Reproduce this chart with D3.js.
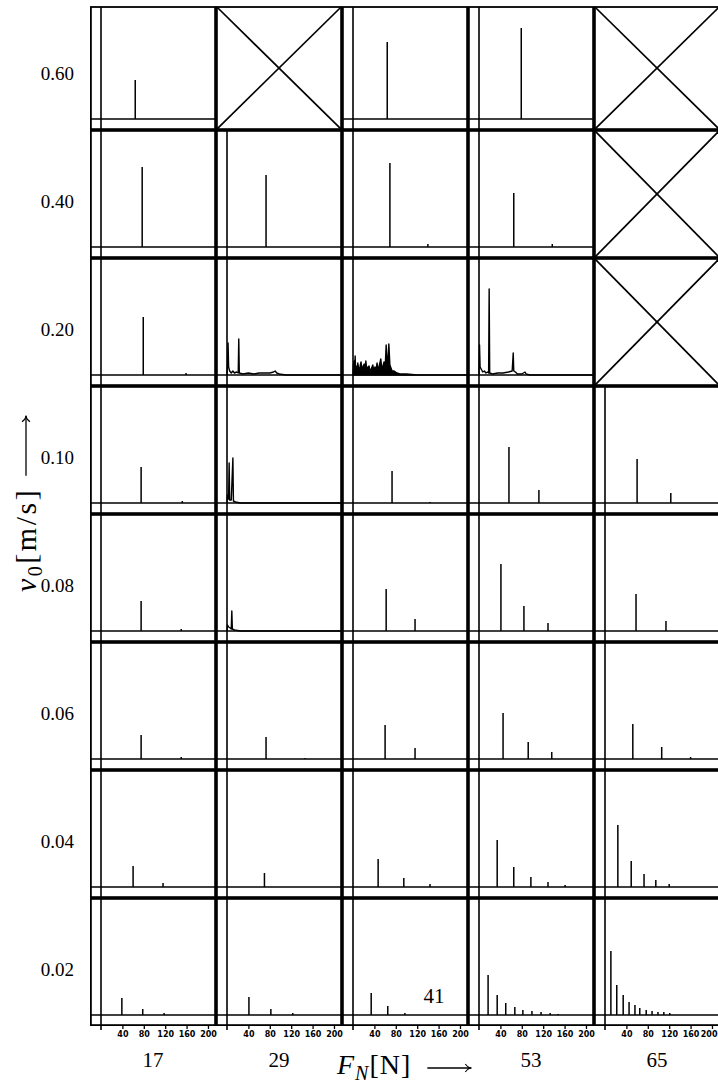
<!DOCTYPE html>
<html>
<head>
<meta charset="utf-8">
<script src="https://cdn.jsdelivr.net/npm/d3@7"></script>
<style>
body { margin: 0; background: #fff; }
svg { display: block; }
</style>
</head>
<body>
<div id="chart"></div>
<script>
(function() {

// rows = sliding speed v0 [m/s], columns = normal force F_N [N]
const speeds = ["0.60", "0.40", "0.20", "0.10", "0.08", "0.06", "0.04", "0.02"];
const forces = ["17", "29", "41", "53", "65"];
const freqTicks = [40, 80, 120, 160, 200];

// cells without a measurement (crossed out)
const crossed = ["0.60|29", "0.60|65", "0.40|65", "0.20|65"];

// spectral lines per row: [force, frequency, amplitude]
const lines060 = [["17", 64, 39], ["41", 64, 77], ["53", 79, 91]];
const lines040 = [["17", 77, 80], ["29", 73, 72], ["41", 69, 84], ["41", 140, 3], ["53", 65, 54], ["53", 137, 3]];
const lines020 = [["17", 79, 58], ["17", 159, 2]];
const lines010 = [["17", 75, 36], ["17", 152, 2], ["41", 73, 32], ["41", 144, 1], ["53", 56, 56], ["53", 112, 13], ["65", 60, 44], ["65", 123, 10]];
const lines008 = [["17", 75, 30], ["17", 150, 2], ["41", 62, 42], ["41", 116, 12], ["53", 41, 67], ["53", 84, 25], ["53", 129, 8], ["65", 58, 37], ["65", 114, 10]];
const lines006 = [["17", 75, 24], ["17", 150, 2], ["29", 73, 22], ["29", 146, 1], ["41", 60, 34], ["41", 116, 11], ["53", 45, 46], ["53", 92, 17], ["53", 136, 7], ["65", 52, 35], ["65", 106, 12], ["65", 160, 2]];
const lines004 = [["17", 60, 21], ["17", 116, 4], ["29", 70, 14], ["41", 47, 28], ["41", 95, 9], ["41", 144, 3], ["53", 34, 47], ["53", 65, 20], ["53", 97, 10], ["53", 129, 5], ["53", 161, 2], ["65", 24, 62], ["65", 49, 26], ["65", 73, 13], ["65", 95, 7], ["65", 120, 3]];
const lines002 = [["17", 39, 17], ["17", 78, 6], ["17", 118, 2], ["29", 41, 18], ["29", 82, 6], ["29", 123, 2], ["41", 34, 22], ["41", 65, 9], ["41", 97, 2],
  ["53", 17, 40], ["53", 34, 20], ["53", 50, 12], ["53", 67, 8], ["53", 82, 5], ["53", 99, 4], ["53", 116, 3], ["53", 133, 2], ["53", 148, 1],
  ["65", 11, 64], ["65", 22, 30], ["65", 34, 20], ["65", 45, 13], ["65", 56, 10], ["65", 65, 7], ["65", 77, 5], ["65", 88, 4], ["65", 99, 3], ["65", 110, 3], ["65", 121, 2]];

// broadband spectra: [frequency, amplitude]
const noise020_29 = [[0, 0], [1, 10], [2, 32], [3, 8], [5, 4], [8, 2], [11, 4], [14, 2], [18, 3], [21, 2], [22, 36], [23, 2], [30, 1], [40, 2], [50, 1], [60, 2], [70, 2], [80, 2], [87, 3], [90, 4], [93, 2], [98, 1], [110, 0], [215, 0]];
const noise020_41 = [[0, 0], [1, 10], [2, 14], [3, 4], [4, 19], [5, 5], [6, 9], [8, 3], [9, 12], [11, 4], [13, 8], [15, 13], [17, 4], [19, 9], [21, 11], [22, 3], [24, 14], [26, 4], [28, 8], [30, 9], [32, 3], [34, 6], [37, 10], [39, 4], [41, 8], [43, 5], [45, 12], [47, 4], [49, 9], [52, 16], [54, 5], [56, 9], [58, 13], [60, 6], [62, 30], [64, 8], [65, 12], [67, 31], [69, 10], [71, 7], [73, 4], [77, 4], [82, 2], [88, 1], [100, 1], [120, 0], [215, 0]];
const noise020_53 = [[0, 0], [1, 30], [2, 8], [4, 6], [7, 3], [10, 4], [13, 2], [16, 3], [18, 2], [19, 86], [20, 2], [25, 1], [35, 2], [45, 2], [55, 3], [62, 4], [64, 22], [65, 4], [68, 3], [72, 1], [80, 1], [86, 3], [88, 1], [95, 0], [215, 0]];
const noise010_29 = [[0, 0], [1, 8], [3, 4], [4, 40], [5, 3], [8, 3], [11, 45], [12, 2], [16, 1], [25, 0], [215, 0]];
const noise008_29 = [[0, 0], [1, 6], [3, 4], [6, 3], [8, 2], [9, 20], [10, 2], [14, 1], [25, 0], [215, 0]];

const lineRows = [["0.60", lines060], ["0.40", lines040], ["0.20", lines020], ["0.10", lines010],
  ["0.08", lines008], ["0.06", lines006], ["0.04", lines004], ["0.02", lines002]];
const noiseCells = [["0.20", "29", noise020_29], ["0.20", "41", noise020_41], ["0.20", "53", noise020_53],
  ["0.10", "29", noise010_29], ["0.08", "29", noise008_29]];

const width = 718, height = 1086;
const inset = 11;      // inner frame offset inside every cell
const topClip = 7;     // figure is cut at the top

const svg = d3.select("#chart")
  .append("svg")
  .attr("width", width)
  .attr("height", height);

const col = d3.scaleBand().domain(forces).range([90, 720]);
const row = d3.scaleBand().domain(speeds).range([2, 1026]);
const cw = col.bandwidth(), ch = row.bandwidth();

// scales inside one cell (same for all)
const fx = d3.scaleLinear().domain([0, 215]).range([inset, cw]);
const ay = d3.scaleLinear().domain([0, 117]).range([ch - inset, 0]);

const cells = [];
speeds.forEach(v => forces.forEach(f => cells.push({ v, f, cross: crossed.includes(v + "|" + f) })));

const cell = svg.selectAll("g.cell")
  .data(cells)
  .join("g")
  .attr("class", "cell")
  .attr("transform", d => `translate(${col(d.f)},${row(d.v)})`);

const top = d => Math.max(0.9, topClip - row(d.v));

// outer boxes
cell.append("rect")
  .attr("x", 0.9)
  .attr("y", top)
  .attr("width", cw - 1.8)
  .attr("height", d => ch - 0.9 - top(d))
  .attr("fill", "none")
  .attr("stroke", "#000")
  .attr("stroke-width", 1.8);

// inner frame lines
const framed = cell.filter(d => !d.cross);
framed.append("line")
  .attr("x1", inset).attr("x2", inset)
  .attr("y1", top).attr("y2", d => d.v === speeds[speeds.length - 1] ? ch + 4 : ch)
  .attr("stroke", "#000").attr("stroke-width", 1.6);
framed.append("line")
  .attr("x1", 0).attr("x2", cw)
  .attr("y1", ay(0)).attr("y2", ay(0))
  .attr("stroke", "#000").attr("stroke-width", 1.7);

// crossed out cells
const cx = cell.filter(d => d.cross);
cx.append("line")
  .attr("x1", 0.9).attr("y1", top)
  .attr("x2", cw - 0.9).attr("y2", ch - 0.9)
  .attr("stroke", "#000").attr("stroke-width", 1.7);
cx.append("line")
  .attr("x1", cw - 0.9).attr("y1", top)
  .attr("x2", 0.9).attr("y2", ch - 0.9)
  .attr("stroke", "#000").attr("stroke-width", 1.7);

// spectral lines
const spikes = [];
lineRows.forEach(([v, arr]) => arr.forEach(([f, hz, a]) => spikes.push({ v, f, hz, a })));

svg.append("g")
  .selectAll("line")
  .data(spikes)
  .join("line")
  .attr("transform", d => `translate(${col(d.f)},${row(d.v)})`)
  .attr("x1", d => fx(d.hz)).attr("x2", d => fx(d.hz))
  .attr("y1", ay(0)).attr("y2", d => ay(d.a))
  .attr("stroke", "#000")
  .attr("stroke-width", 1.5);

// broadband spectra (the 41 N / 0.20 m/s one is dense enough to look filled)
const area = d3.area()
  .x(d => fx(d[0]))
  .y0(ay(0))
  .y1(d => ay(d[1]));
const trace = d3.line()
  .x(d => fx(d[0]))
  .y(d => ay(d[1]));

svg.append("g")
  .selectAll("path")
  .data(noiseCells)
  .join("path")
  .attr("transform", d => `translate(${col(d[1])},${row(d[0])})`)
  .attr("d", d => d[1] === "41" ? area(d[2]) : trace(d[2]))
  .attr("fill", d => d[1] === "41" ? "#000" : "none")
  .attr("stroke", "#000")
  .attr("stroke-width", 1.4)
  .attr("stroke-linejoin", "round");

// frequency axes under the last row
const lastRow = speeds[speeds.length - 1];
forces.forEach(f => {
  const ax = svg.append("g")
    .attr("transform", `translate(${col(f)},${row(lastRow) + ch})`)
    .call(d3.axisBottom(fx).tickValues(freqTicks).tickSize(3).tickPadding(2).tickFormat(d3.format("d")));
  ax.select(".domain").remove();
  ax.selectAll("line").attr("stroke", "#000").attr("stroke-width", 1.3);
  ax.selectAll("text")
    .attr("font-family", "DejaVu Sans")
    .attr("font-weight", "bold")
    .attr("font-size", 8)
    .attr("fill", "#000");
  // keep the last label inside the page (the figure is cropped there)
  ax.selectAll(".tick text")
    .filter(d => col(f) + fx(d) + 9 > width)
    .attr("text-anchor", "end")
    .attr("x", d => width - 1 - col(f) - fx(d));
});

// force labels
svg.append("g")
  .selectAll("text")
  .data(forces)
  .join("text")
  .attr("x", f => col(f) + cw / 2 + (f === "41" ? 29 : 0))
  .attr("y", f => f === "41" ? row(lastRow) + ch - 23 : 1067)
  .attr("text-anchor", "middle")
  .attr("font-family", "Liberation Serif")
  .attr("font-size", 21)
  .text(f => f);

// speed labels
svg.append("g")
  .selectAll("text")
  .data(speeds)
  .join("text")
  .attr("x", 74)
  .attr("y", v => row(v) + ch / 2 + 14)
  .attr("text-anchor", "end")
  .attr("font-family", "Liberation Serif")
  .attr("font-size", 19)
  .text(v => v);

// arrow helper
function arrow(g, x1, y1, x2, y2) {
  g.append("line")
    .attr("x1", x1).attr("y1", y1).attr("x2", x2).attr("y2", y2)
    .attr("stroke", "#000").attr("stroke-width", 1.3);
  g.append("path")
    .attr("d", `M${x2 - 6},${y2 - 4}Q${x2 - 3},${y2} ${x2},${y2}Q${x2 - 3},${y2} ${x2 - 6},${y2 + 4}`)
    .attr("fill", "none").attr("stroke", "#000").attr("stroke-width", 1.2);
}

// x title  F_N[N] -->
const xt = svg.append("text")
  .attr("x", 337)
  .attr("y", 1074)
  .attr("font-family", "Liberation Serif")
  .attr("font-size", 28)
  .attr("letter-spacing", 1);
xt.append("tspan").attr("font-style", "italic").text("F");
xt.append("tspan").attr("font-style", "italic").attr("font-size", 20).attr("dy", 6).text("N");
xt.append("tspan").attr("dy", -6).text("[N]");
const xlen = xt.node().getComputedTextLength();
arrow(svg.append("g"), 337 + xlen + 16, 1068, 337 + xlen + 60, 1068);

// y title  v0[m/s] -->
const yg = svg.append("g").attr("transform", "translate(36,592) rotate(-90)");
const yt = yg.append("text")
  .attr("font-family", "Liberation Serif")
  .attr("font-size", 30)
  .attr("letter-spacing", 2.5);
yt.append("tspan").attr("font-style", "italic").text("v");
yt.append("tspan").attr("font-size", 20).attr("dy", 6).text("0");
yt.append("tspan").attr("dy", -6).text("[m/s]");
const ylen = yt.node().getComputedTextLength();
arrow(yg, ylen + 12, -10, ylen + 72, -10);

})();
</script>
</body>
</html>
